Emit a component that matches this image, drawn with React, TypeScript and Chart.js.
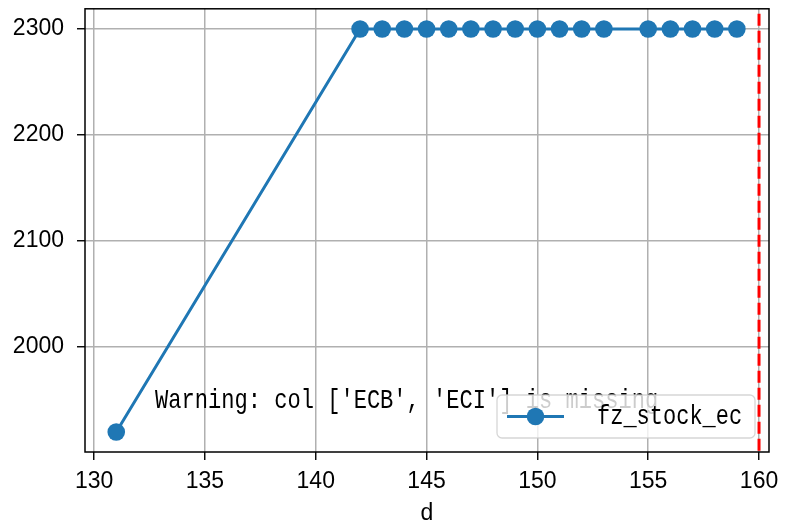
import React, { useEffect, useRef } from "react";
import { Chart, registerables } from "chart.js";

Chart.register(...registerables);

const days = [131, 142, 143, 144, 145, 146, 147, 148, 149, 150, 151, 152, 153, 155, 156, 157, 158, 159];
const stock = [1920, 2300, 2300, 2300, 2300, 2300, 2300, 2300, 2300, 2300, 2300, 2300, 2300, 2300, 2300, 2300, 2300, 2300];
const seriesName = "fz_stock_ec";
const xTicks = [130, 135, 140, 145, 150, 155, 160];
const yTicks = [2000, 2100, 2200, 2300];
const xRange = [129.59, 160.45];
const yRange = [1901.1, 2319.1];
const vlineX = 160;
const warningText = "Warning: col ['ECB', 'ECI'] is missing";
const warningPos = { x: 132.75, y: 1942.4 };
const xAxisTitle = "d";

const BLUE = "#1f77b4";
const MONO = "'Liberation Mono', monospace";
const SANS = "'Liberation Sans', Arial, sans-serif";

function narrowText(ctx: CanvasRenderingContext2D, text: string, x: number, y: number, charW: number) {
  const w = ctx.measureText(text).width;
  const target = charW * text.length;
  const s = target / w;
  ctx.save();
  ctx.translate(x, y);
  ctx.scale(s, 1);
  ctx.fillText(text, 0, 0);
  ctx.restore();
}

const overlay = {
  id: "overlay",
  afterDatasetsDraw(chart: any) {
    const { ctx, chartArea: a, scales } = chart;
    const xs = scales.x;
    const ys = scales.y;
    ctx.save();
    const vx = xs.getPixelForValue(vlineX);
    ctx.beginPath();
    ctx.rect(a.left, a.top, a.right - a.left, a.bottom - a.top);
    ctx.clip();
    ctx.strokeStyle = "#ff0000";
    ctx.lineWidth = 3;
    ctx.setLineDash([12, 5]);
    ctx.lineDashOffset = 12;
    ctx.beginPath();
    ctx.moveTo(vx, a.top);
    ctx.lineTo(vx, a.bottom);
    ctx.stroke();
    ctx.setLineDash([]);
    ctx.restore();

    ctx.save();
    ctx.fillStyle = "#000";
    ctx.font = `28px ${MONO}`;
    ctx.textBaseline = "alphabetic";
    ctx.textAlign = "left";
    narrowText(ctx, warningText, xs.getPixelForValue(warningPos.x), ys.getPixelForValue(warningPos.y), 13.24);
    ctx.restore();

    ctx.save();
    const bw = 258, bh = 43;
    const bx = a.right - 14 - bw;
    const by = a.bottom - 14 - bh;
    const r = 5;
    ctx.beginPath();
    ctx.moveTo(bx + r, by);
    ctx.arcTo(bx + bw, by, bx + bw, by + bh, r);
    ctx.arcTo(bx + bw, by + bh, bx, by + bh, r);
    ctx.arcTo(bx, by + bh, bx, by, r);
    ctx.arcTo(bx, by, bx + bw, by, r);
    ctx.closePath();
    ctx.fillStyle = "rgba(255,255,255,0.8)";
    ctx.fill();
    ctx.strokeStyle = "rgba(204,204,204,0.8)";
    ctx.lineWidth = 1.3;
    ctx.stroke();
    const cy = by + bh / 2;
    ctx.strokeStyle = BLUE;
    ctx.lineWidth = 3;
    ctx.beginPath();
    ctx.moveTo(bx + 10, cy);
    ctx.lineTo(bx + 67, cy);
    ctx.stroke();
    ctx.fillStyle = BLUE;
    ctx.beginPath();
    ctx.arc(bx + 38.5, cy, 8.8, 0, Math.PI * 2);
    ctx.fill();
    ctx.fillStyle = "#000";
    ctx.font = `28px ${MONO}`;
    ctx.textBaseline = "alphabetic";
    narrowText(ctx, seriesName, bx + 100, cy + 7, 13.2);
    ctx.restore();

    ctx.save();
    ctx.strokeStyle = "#000";
    ctx.lineWidth = 1.5;
    ctx.strokeRect(a.left, a.top, a.right - a.left, a.bottom - a.top);
    ctx.restore();
  },
};

export default function App() {
  const ref = useRef<HTMLCanvasElement>(null);
  useEffect(() => {
    if (!ref.current) return;
    const chart = new Chart(ref.current, {
      type: "scatter",
      data: {
        datasets: [
          {
            label: seriesName,
            data: days.map((d, i) => ({ x: d, y: stock[i] })),
            showLine: true,
            borderColor: BLUE,
            backgroundColor: BLUE,
            borderWidth: 3,
            pointRadius: 8.8,
            pointHoverRadius: 8.8,
            pointBorderWidth: 0,
            pointBackgroundColor: BLUE,
          },
        ],
      },
      options: {
        animation: false,
        responsive: false,
        maintainAspectRatio: false,
        events: [],
        layout: { padding: { top: 7, right: 18, left: 0, bottom: 0 } },
        plugins: { legend: { display: false }, tooltip: { enabled: false } },
        scales: {
          x: {
            type: "linear",
            min: xRange[0],
            max: xRange[1],
            afterBuildTicks: (s: any) => {
              s.ticks = xTicks.map((v) => ({ value: v }));
            },
            afterFit: (s: any) => {
              s.height = 70;
              s.paddingLeft = 0;
              s.paddingRight = 0;
            },
            ticks: {
              includeBounds: false,
              color: "#000",
              font: { family: SANS, size: 23 },
              padding: 8,
              maxRotation: 0,
              autoSkip: false,
              callback: (v: any) => String(v),
            },
            grid: { color: "#b0b0b0", lineWidth: 1.5, tickColor: "#000", tickLength: 8, tickWidth: 1.4 },
            border: { display: false },
            title: {
              display: true,
              text: xAxisTitle,
              color: "#000",
              font: { family: SANS, size: 23 },
              padding: { top: 0, bottom: -5 },
            },
          },
          y: {
            type: "linear",
            min: yRange[0],
            max: yRange[1],
            afterBuildTicks: (s: any) => {
              s.ticks = yTicks.map((v) => ({ value: v }));
            },
            afterFit: (s: any) => {
              s.width = 85;
              s.paddingTop = 0;
              s.paddingBottom = 0;
            },
            ticks: {
              includeBounds: false,
              color: "#000",
              font: { family: SANS, size: 23 },
              padding: 13,
              callback: (v: any) => String(v),
            },
            grid: { color: "#b0b0b0", lineWidth: 1.5, tickColor: "#000", tickLength: 8, tickWidth: 1.4 },
            border: { display: false },
          },
        },
      },
      plugins: [overlay],
    } as any);
    return () => chart.destroy();
  }, []);
  return (
    <div style={{ position: "fixed", left: 0, top: 0, width: 787, height: 522, background: "#fff" }}>
      <canvas ref={ref} width={787} height={522} style={{ width: 787, height: 522, display: "block" }} />
    </div>
  );
}
